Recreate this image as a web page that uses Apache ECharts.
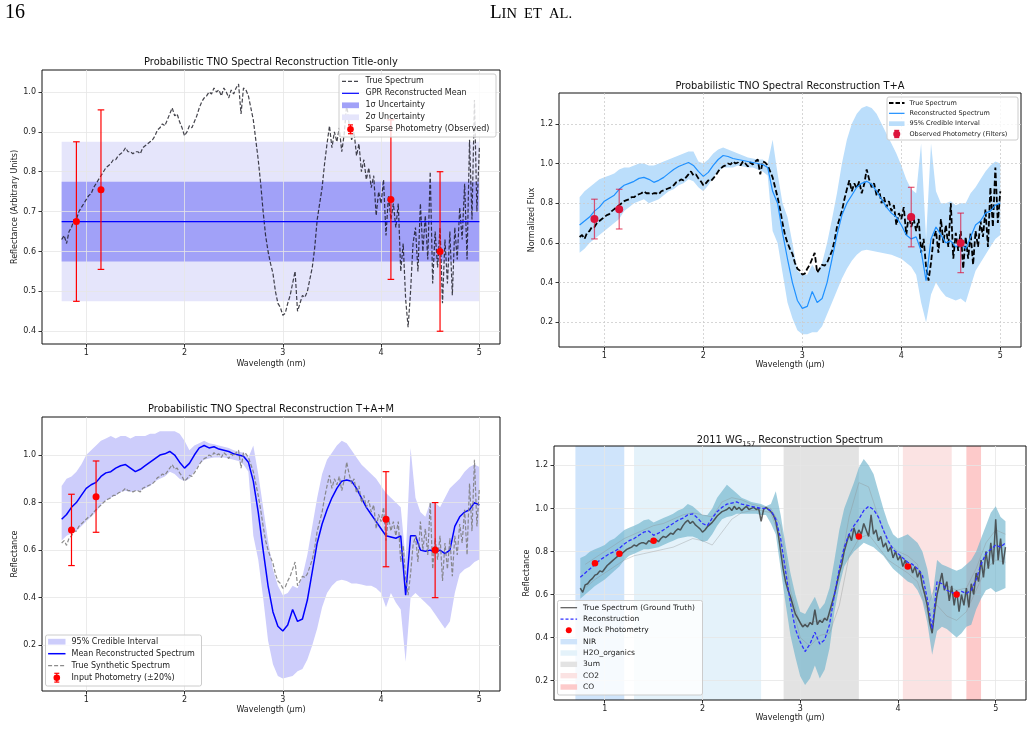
<!DOCTYPE html>
<html>
<head>
<meta charset="utf-8">
<title>TNO spectral reconstructions</title>
<script src="https://cdn.jsdelivr.net/npm/echarts@6.0.0/dist/echarts.min.js"></script>
<style>
  html, body { margin: 0; padding: 0; background: #fff; }
  #main { width: 1034px; height: 729px; }
</style>
</head>
<body>
<div id="main"></div>
<script>
// ---------- data ----------
// fine wavelength grid shared by the true spectrum of panels 1-3 (um)
const wlFine = [
  0.75, 0.775, 0.8, 0.825, 0.85, 0.875, 0.9, 0.925, 0.95, 0.975,
  1, 1.025, 1.05, 1.075, 1.1, 1.125, 1.15, 1.175, 1.2, 1.225,
  1.25, 1.275, 1.3, 1.325, 1.35, 1.375, 1.4, 1.425, 1.45, 1.475,
  1.5, 1.525, 1.55, 1.575, 1.6, 1.625, 1.65, 1.675, 1.7, 1.725,
  1.75, 1.775, 1.8, 1.825, 1.85, 1.875, 1.9, 1.925, 1.95, 1.975,
  2, 2.025, 2.05, 2.075, 2.1, 2.125, 2.15, 2.175, 2.2, 2.225,
  2.25, 2.275, 2.3, 2.325, 2.35, 2.375, 2.4, 2.425, 2.45, 2.475,
  2.5, 2.525, 2.55, 2.575, 2.6, 2.625, 2.65, 2.675, 2.7, 2.725,
  2.75, 2.775, 2.8, 2.825, 2.85, 2.875, 2.9, 2.925, 2.95, 2.975,
  3, 3.025, 3.05, 3.075, 3.1, 3.125, 3.15, 3.175, 3.2, 3.225,
  3.25, 3.275, 3.3, 3.325, 3.35, 3.375, 3.4, 3.425, 3.45, 3.475,
  3.5, 3.525, 3.55, 3.575, 3.6, 3.625, 3.65, 3.675, 3.7, 3.725,
  3.75, 3.775, 3.8, 3.825, 3.85, 3.875, 3.9, 3.925, 3.95, 3.975,
  4, 4.025, 4.05, 4.075, 4.1, 4.125, 4.15, 4.175, 4.2, 4.225,
  4.25, 4.275, 4.3, 4.325, 4.35, 4.375, 4.4, 4.425, 4.45, 4.475,
  4.5, 4.525, 4.55, 4.575, 4.6, 4.625, 4.65, 4.675, 4.7, 4.725,
  4.75, 4.775, 4.8, 4.825, 4.85, 4.875, 4.9, 4.925, 4.95, 4.975,
  5
];
const trueFlux = [
  0.63, 0.64, 0.62, 0.65, 0.66, 0.68, 0.68, 0.70, 0.71, 0.72,
  0.73, 0.74, 0.745, 0.76, 0.77, 0.78, 0.79, 0.80, 0.81, 0.815,
  0.82, 0.83, 0.83, 0.84, 0.845, 0.85, 0.86, 0.85, 0.85, 0.845,
  0.85, 0.85, 0.845, 0.86, 0.865, 0.87, 0.875, 0.88, 0.89, 0.905,
  0.91, 0.92, 0.915, 0.93, 0.945, 0.96, 0.94, 0.945, 0.925, 0.91,
  0.89, 0.90, 0.915, 0.91, 0.925, 0.94, 0.96, 0.975, 0.985, 0.99,
  1.00, 0.995, 1.01, 1.00, 1.005, 0.99, 1.01, 1.00, 0.985, 1.005,
  0.995, 1.01, 1.02, 0.945, 1.01, 1.005, 0.99, 0.96, 0.93, 0.88,
  0.83, 0.77, 0.70, 0.64, 0.60, 0.57, 0.545, 0.50, 0.47, 0.46,
  0.44, 0.445, 0.47, 0.49, 0.52, 0.55, 0.45, 0.47, 0.49, 0.485,
  0.50, 0.53, 0.56, 0.61, 0.68, 0.72, 0.76, 0.82, 0.87, 0.915,
  0.86, 0.90, 0.875, 0.91, 0.85, 0.895, 0.97, 0.92, 0.88, 0.90,
  0.84, 0.87, 0.80, 0.83, 0.78, 0.81, 0.76, 0.79, 0.69, 0.75,
  0.72, 0.78, 0.64, 0.74, 0.68, 0.72, 0.66, 0.72, 0.55, 0.62,
  0.48, 0.41, 0.50, 0.62, 0.66, 0.55, 0.72, 0.60, 0.69, 0.58,
  0.80, 0.52, 0.65, 0.56, 0.66, 0.47, 0.63, 0.52, 0.65, 0.49,
  0.66, 0.58, 0.71, 0.63, 0.77, 0.58, 0.88, 0.68, 0.98, 0.70,
  0.86
];

// coarse grid for the reconstructions of panels 2 and 3
const wlCoarse = [
  0.75, 0.8, 0.85, 0.9, 0.95, 1, 1.05, 1.1, 1.15, 1.2,
  1.25, 1.3, 1.35, 1.4, 1.45, 1.5, 1.55, 1.6, 1.65, 1.7,
  1.75, 1.8, 1.85, 1.9, 1.95, 2, 2.05, 2.1, 2.15, 2.2,
  2.25, 2.3, 2.35, 2.4, 2.45, 2.5, 2.55, 2.6, 2.65, 2.7,
  2.75, 2.8, 2.85, 2.9, 2.95, 3, 3.05, 3.1, 3.15, 3.2,
  3.25, 3.3, 3.35, 3.4, 3.45, 3.5, 3.55, 3.6, 3.65, 3.7,
  3.75, 3.8, 3.85, 3.9, 3.95, 4, 4.05, 4.1, 4.15, 4.2,
  4.25, 4.3, 4.35, 4.4, 4.45, 4.5, 4.55, 4.6, 4.65, 4.7,
  4.75, 4.8, 4.85, 4.9, 4.95, 5
];

// panel 1: title-only GPR (flat mean)
const gprX = [0.75, 5.0];
const gprMean = [0.675, 0.675];
const sig1Lo = [0.575, 0.575];
const sig1Hi = [0.775, 0.775];
const sig2Lo = [0.475, 0.475];
const sig2Hi = [0.875, 0.875];
const p1PhotX = [0.9, 1.15, 4.1, 4.6];
const p1PhotY = [0.675, 0.755, 0.73, 0.60];
const p1PhotErr = [0.2, 0.2, 0.2, 0.2];

// panel 2: T+A
const p2Mean = [
  0.69, 0.71, 0.73, 0.76, 0.78, 0.81, 0.825, 0.84, 0.87, 0.89,
  0.90, 0.91, 0.925, 0.93, 0.92, 0.905, 0.915, 0.93, 0.95, 0.97,
  0.985, 0.995, 1.005, 0.99, 0.96, 0.935, 0.955, 0.99, 1.02, 1.04,
  1.035, 1.025, 1.02, 1.015, 1.01, 1.005, 1.0, 0.995, 0.98, 0.86,
  0.80, 0.65, 0.52, 0.40, 0.31, 0.27, 0.28, 0.355, 0.30, 0.32,
  0.40, 0.52, 0.64, 0.74, 0.80, 0.84, 0.88, 0.90, 0.91, 0.895,
  0.86, 0.82, 0.78, 0.75, 0.73, 0.69, 0.64, 0.62, 0.63, 0.56,
  0.41, 0.62, 0.68, 0.64, 0.60, 0.61, 0.58, 0.60, 0.57, 0.63,
  0.69, 0.71, 0.75, 0.76, 0.79, 0.80
];
const p2Lo = [
  0.55, 0.57, 0.60, 0.62, 0.64, 0.66, 0.68, 0.70, 0.72, 0.76,
  0.78, 0.80, 0.81, 0.82, 0.80, 0.81, 0.82, 0.84, 0.86, 0.87,
  0.89, 0.90, 0.92, 0.91, 0.88, 0.86, 0.89, 0.93, 0.96, 0.98,
  0.98, 0.98, 0.99, 0.985, 0.98, 0.98, 0.97, 0.96, 0.94, 0.66,
  0.60, 0.45, 0.30, 0.22, 0.16, 0.14, 0.14, 0.15, 0.15, 0.18,
  0.24, 0.30, 0.36, 0.42, 0.47, 0.51, 0.54, 0.56, 0.565, 0.56,
  0.555, 0.55, 0.545, 0.54, 0.53, 0.52, 0.50, 0.48, 0.44, 0.30,
  0.20, 0.34, 0.40, 0.36, 0.33, 0.32, 0.31, 0.32, 0.30, 0.38,
  0.46, 0.50, 0.54, 0.58, 0.62, 0.64
];
const p2Hi = [
  0.83, 0.86, 0.88, 0.90, 0.92, 0.93, 0.94, 0.95, 0.97, 0.98,
  0.98, 0.99, 1.00, 1.00, 0.99, 0.99, 1.00, 1.01, 1.02, 1.03,
  1.04, 1.05, 1.06, 1.06, 1.01, 1.00, 1.02, 1.05, 1.07, 1.08,
  1.07, 1.06, 1.05, 1.04, 1.03, 1.025, 1.02, 1.02, 1.00, 1.12,
  0.95, 0.80, 0.73, 0.60, 0.46, 0.44, 0.44, 0.49, 0.45, 0.50,
  0.60, 0.72, 0.85, 1.00, 1.12, 1.20, 1.25, 1.28, 1.29, 1.28,
  1.25, 1.20, 1.15, 1.10, 1.05, 0.99, 0.92, 0.87, 0.85, 1.10,
  0.62, 1.10, 0.86, 0.80, 0.80, 0.81, 0.79, 0.80, 0.80, 0.85,
  0.88, 0.92, 0.96, 0.99, 1.01, 1.00
];
const p2PhotX = [0.9, 1.15, 4.1, 4.6];
const p2PhotY = [0.72, 0.77, 0.73, 0.60];
const p2PhotErr = [0.1, 0.1, 0.15, 0.15];

// panel 3: T+A+M
const p3Mean = [
  0.73, 0.75, 0.78, 0.80, 0.83, 0.86, 0.875, 0.885, 0.91, 0.925,
  0.93, 0.945, 0.955, 0.96, 0.945, 0.93, 0.94, 0.955, 0.97, 0.985,
  1.00, 1.005, 1.015, 1.0, 0.97, 0.945, 0.965, 1.0, 1.03, 1.04,
  1.03, 1.035, 1.025, 1.02, 1.015, 1.005, 1.0, 0.995, 0.97, 0.89,
  0.76, 0.60, 0.45, 0.34, 0.28, 0.26, 0.285, 0.35, 0.30, 0.31,
  0.39, 0.51, 0.63, 0.71, 0.77, 0.82, 0.86, 0.89, 0.895, 0.89,
  0.86, 0.82, 0.78, 0.75, 0.72, 0.69, 0.66, 0.655, 0.65, 0.66,
  0.41, 0.66, 0.66, 0.60, 0.595, 0.60, 0.59, 0.60, 0.585, 0.60,
  0.70, 0.74, 0.76, 0.77, 0.80, 0.79
];
const p3Lo = [
  0.64, 0.66, 0.67, 0.68, 0.70, 0.72, 0.74, 0.76, 0.79, 0.81,
  0.82, 0.83, 0.845, 0.85, 0.845, 0.85, 0.85, 0.86, 0.87, 0.89,
  0.90, 0.91, 0.93, 0.92, 0.90, 0.89, 0.90, 0.93, 0.96, 0.98,
  0.985, 0.99, 0.99, 0.99, 0.985, 0.98, 0.975, 0.96, 0.93, 0.66,
  0.56, 0.40, 0.22, 0.12, 0.07, 0.06, 0.065, 0.07, 0.09, 0.10,
  0.14, 0.20, 0.27, 0.36, 0.42, 0.45, 0.47, 0.475, 0.47, 0.46,
  0.46, 0.455, 0.45, 0.45, 0.44, 0.42, 0.36, 0.42, 0.38, 0.35,
  0.13, 0.40, 0.42, 0.40, 0.38, 0.36, 0.33, 0.30, 0.27, 0.30,
  0.42, 0.50, 0.52, 0.53, 0.55, 0.56
];
const p3Hi = [
  0.87, 0.90, 0.91, 0.93, 0.96, 1.00, 1.02, 1.04, 1.06, 1.07,
  1.08, 1.07, 1.08, 1.08, 1.07, 1.08, 1.08, 1.08, 1.09, 1.09,
  1.10, 1.10, 1.10, 1.10, 1.09, 1.06, 1.02, 1.04, 1.05, 1.06,
  1.05, 1.045, 1.04, 1.035, 1.03, 1.02, 1.015, 1.01, 0.99, 1.04,
  0.92, 0.78, 0.64, 0.52, 0.45, 0.41, 0.42, 0.45, 0.44, 0.49,
  0.58, 0.70, 0.82, 0.92, 0.98, 1.01, 1.04, 1.06, 1.05, 1.02,
  0.99, 0.96, 0.94, 0.92, 0.90, 0.87, 0.84, 0.82, 0.80, 0.78,
  0.56, 1.03, 0.82, 0.76, 0.74, 0.80, 0.80, 0.78, 0.82, 0.86,
  0.88, 0.90, 0.93, 0.95, 0.96, 0.95
];
const p3PhotX = [0.85, 1.1, 4.05, 4.55];
const p3PhotY = [0.685, 0.825, 0.73, 0.60];
const p3PhotErr = [0.15, 0.15, 0.2, 0.2];

// panel 4: 2011 WG157
const wl4True = wlFine.concat([5.025, 5.05, 5.075, 5.1]);
const p4True = [
  0.63, 0.61, 0.645, 0.65, 0.665, 0.675, 0.69, 0.695, 0.71, 0.705,
  0.72, 0.735, 0.745, 0.755, 0.765, 0.775, 0.785, 0.79, 0.80, 0.81,
  0.815, 0.82, 0.83, 0.825, 0.835, 0.84, 0.84, 0.835, 0.85, 0.845,
  0.85, 0.855, 0.845, 0.86, 0.87, 0.865, 0.875, 0.885, 0.88, 0.895,
  0.905, 0.90, 0.92, 0.935, 0.945, 0.93, 0.94, 0.925, 0.915, 0.905,
  0.89, 0.90, 0.915, 0.925, 0.935, 0.95, 0.965, 0.975, 0.985, 0.99,
  0.995, 1.005, 0.99, 1.01, 0.995, 1.005, 0.99, 1.0, 1.01, 0.995,
  1.0, 1.005, 0.995, 1.0, 0.94, 0.995, 1.005, 0.995, 0.985, 0.97,
  0.94, 0.88, 0.80, 0.72, 0.66, 0.62, 0.59, 0.55, 0.51, 0.49,
  0.47, 0.45, 0.46, 0.45, 0.47, 0.46, 0.53, 0.46, 0.48, 0.47,
  0.49, 0.48, 0.52, 0.56, 0.60, 0.65, 0.70, 0.74, 0.80, 0.84,
  0.88, 0.85, 0.91, 0.87, 0.90, 0.88, 0.93, 0.90, 0.87, 0.97,
  0.88, 0.90, 0.85, 0.87, 0.82, 0.84, 0.80, 0.82, 0.77, 0.80,
  0.76, 0.78, 0.73, 0.76, 0.72, 0.74, 0.70, 0.73, 0.68, 0.71,
  0.64, 0.60, 0.55, 0.47, 0.42, 0.52, 0.60, 0.65, 0.70, 0.62,
  0.66, 0.57, 0.64, 0.55, 0.62, 0.52, 0.60, 0.55, 0.63, 0.54,
  0.65, 0.60, 0.70, 0.66, 0.76, 0.68, 0.80, 0.72, 0.84, 0.74,
  0.95, 0.76, 0.86, 0.74, 0.82
];
const wl4 = wlCoarse.concat([5.05, 5.1]);
const p4Mean = [
  0.68, 0.70, 0.72, 0.74, 0.76, 0.775, 0.79, 0.80, 0.815, 0.835,
  0.85, 0.86, 0.875, 0.89, 0.895, 0.875, 0.885, 0.90, 0.915, 0.93,
  0.945, 0.955, 0.97, 0.975, 0.955, 0.93, 0.92, 0.955, 0.985, 1.005,
  1.02, 1.025, 1.03, 1.02, 1.015, 1.01, 1.005, 1.0, 1.0, 0.99,
  0.95, 0.86, 0.71, 0.56, 0.44, 0.38, 0.335, 0.37, 0.425, 0.37,
  0.39, 0.46, 0.60, 0.72, 0.82, 0.88, 0.92, 0.95, 0.99, 1.01,
  0.995, 0.96, 0.90, 0.85, 0.81, 0.79, 0.77, 0.75, 0.74, 0.72,
  0.69, 0.58, 0.44, 0.66, 0.65, 0.62, 0.61, 0.60, 0.615, 0.605,
  0.62, 0.67, 0.74, 0.79, 0.81, 0.83, 0.82, 0.84
];
const p4Lo = [
  0.58, 0.60, 0.62, 0.64, 0.655, 0.67, 0.69, 0.71, 0.73, 0.76,
  0.78, 0.79, 0.80, 0.81, 0.81, 0.815, 0.82, 0.83, 0.84, 0.85,
  0.86, 0.865, 0.87, 0.87, 0.86, 0.845, 0.85, 0.88, 0.92, 0.95,
  0.96, 0.965, 0.975, 0.975, 0.975, 0.975, 0.975, 0.97, 0.97, 0.93,
  0.88, 0.72, 0.56, 0.41, 0.31, 0.22, 0.18, 0.21, 0.27, 0.21,
  0.25, 0.35, 0.52, 0.64, 0.73, 0.77, 0.80, 0.82, 0.84, 0.83,
  0.82, 0.80, 0.78, 0.75, 0.72, 0.70, 0.68, 0.66, 0.65, 0.62,
  0.57, 0.47, 0.32, 0.43, 0.45, 0.44, 0.42, 0.40, 0.42, 0.45,
  0.46, 0.53, 0.58, 0.62, 0.63, 0.61, 0.62, 0.63
];
const p4Hi = [
  0.77, 0.78, 0.80, 0.81, 0.82, 0.83, 0.85, 0.86, 0.88, 0.90,
  0.91, 0.92, 0.93, 0.945, 0.95, 0.935, 0.945, 0.955, 0.965, 0.975,
  0.99, 1.0, 1.02, 1.01, 0.99, 0.97, 0.97, 1.00, 1.05, 1.08,
  1.11, 1.09, 1.07, 1.05, 1.04, 1.03, 1.025, 1.02, 1.01, 1.02,
  1.08, 0.97, 0.83, 0.70, 0.60, 0.52, 0.51, 0.55, 0.59, 0.53,
  0.56, 0.63, 0.76, 0.90, 1.00, 1.06, 1.12, 1.19, 1.23, 1.20,
  1.16, 1.08, 1.00, 0.93, 0.88, 0.86, 0.87, 0.88, 0.86, 0.84,
  0.80, 0.72, 0.58, 0.76, 0.74, 0.73, 0.72, 0.71, 0.72, 0.74,
  0.76, 0.80, 0.86, 0.92, 0.98, 1.01, 0.96, 0.94
];
// two faint posterior draws seen inside the band
const wl4Draw = [
  0.8, 0.9, 1, 1.1, 1.2, 1.3, 1.4, 1.5, 1.6, 1.7,
  1.8, 1.9, 2, 2.1, 2.2, 2.3, 2.4, 2.5, 2.6, 2.7,
  2.8, 2.9, 3, 3.1, 3.2, 3.3, 3.4, 3.5, 3.6, 3.7,
  3.8, 3.9, 4, 4.1, 4.2, 4.3, 4.4, 4.5, 4.6, 4.7,
  4.8, 4.9, 5, 5.1
];
const p4DrawA = [
  0.63, 0.67, 0.70, 0.73, 0.76, 0.78, 0.79, 0.80, 0.81, 0.82,
  0.84, 0.86, 0.85, 0.83, 0.89, 0.95, 0.98, 0.99, 0.99, 0.98,
  0.85, 0.58, 0.40, 0.36, 0.41, 0.42, 0.55, 0.78, 0.86, 0.88,
  0.82, 0.76, 0.73, 0.70, 0.66, 0.52, 0.55, 0.50, 0.48, 0.52,
  0.62, 0.72, 0.76, 0.75
];
const p4DrawB = [
  0.74, 0.77, 0.80, 0.83, 0.86, 0.88, 0.90, 0.92, 0.93, 0.95,
  0.97, 0.98, 0.97, 0.96, 1.03, 1.05, 1.04, 1.02, 1.01, 1.00,
  0.92, 0.62, 0.46, 0.47, 0.48, 0.50, 0.70, 0.96, 1.12, 1.10,
  0.96, 0.84, 0.80, 0.78, 0.74, 0.54, 0.66, 0.64, 0.62, 0.63,
  0.72, 0.84, 0.90, 0.88
];
const p4PhotX = [0.9, 1.15, 1.5, 3.6, 4.1, 4.6];
const p4PhotY = [0.745, 0.79, 0.85, 0.87, 0.73, 0.60];
const spanNames = ['NIR', 'H2O_organics', '3um', 'CO2', 'CO'];
const spanStart = [0.7, 1.3, 2.83, 4.05, 4.7];
const spanEnd = [1.2, 2.6, 3.6, 4.55, 4.85];

// tick labels
const xTicks = [1, 2, 3, 4, 5];
const y1Ticks = [0.4, 0.5, 0.6, 0.7, 0.8, 0.9, 1.0];
const y2Ticks = [0.2, 0.4, 0.6, 0.8, 1.0, 1.2];
const y3Ticks = [0.2, 0.4, 0.6, 0.8, 1.0];
const y4Ticks = [0.2, 0.4, 0.6, 0.8, 1.0, 1.2];

// ---------- styles ----------
const FONT = 'DejaVu Sans';
const TXT = '#222';
const spanColors = ['#cfe4fb', '#e4f2fa', '#e3e3e3', '#fbe3e3', '#fdcaca'];

const chart = echarts.init(document.getElementById('main'), null, { renderer: 'canvas' });

function pairs(xs, ys) {
  return xs.map((x, i) => [x, ys[i]]);
}

function lineSeries(gi, xs, ys, color, width, dash, z) {
  return {
    type: 'line', xAxisIndex: gi, yAxisIndex: gi, z: z || 3, silent: true,
    data: pairs(xs, ys), showSymbol: false, symbol: 'none',
    lineStyle: { color: color, width: width, type: dash || 'solid' }
  };
}

function bandSeries(gi, xs, lo, hi, color, z) {
  return {
    type: 'custom', xAxisIndex: gi, yAxisIndex: gi, z: z, silent: true,
    data: [[xs[0], lo[0]]],
    renderItem: function (params, api) {
      const pts = [];
      for (let i = 0; i < xs.length; i++) pts.push(api.coord([xs[i], hi[i]]));
      for (let i = xs.length - 1; i >= 0; i--) pts.push(api.coord([xs[i], lo[i]]));
      return { type: 'polygon', shape: { points: pts }, style: { fill: color } };
    }
  };
}

function errorSeries(gi, xs, ys, errs, color, capHalf, lw) {
  return {
    type: 'custom', xAxisIndex: gi, yAxisIndex: gi, z: 4, silent: true,
    data: xs.map((x, i) => [x, ys[i] - errs[i], ys[i] + errs[i]]),
    encode: { x: 0, y: [1, 2] },
    renderItem: function (params, api) {
      const x = api.value(0);
      const lo = api.coord([x, api.value(1)]);
      const hi = api.coord([x, api.value(2)]);
      const st = { stroke: color, lineWidth: lw };
      return {
        type: 'group', children: [
          { type: 'line', shape: { x1: lo[0], y1: lo[1], x2: hi[0], y2: hi[1] }, style: st },
          { type: 'line', shape: { x1: lo[0] - capHalf, y1: lo[1], x2: lo[0] + capHalf, y2: lo[1] }, style: st },
          { type: 'line', shape: { x1: hi[0] - capHalf, y1: hi[1], x2: hi[0] + capHalf, y2: hi[1] }, style: st }
        ]
      };
    }
  };
}

function dotSeries(gi, xs, ys, color, size) {
  return {
    type: 'scatter', xAxisIndex: gi, yAxisIndex: gi, z: 5, silent: true,
    data: pairs(xs, ys), symbolSize: size, itemStyle: { color: color, opacity: 1 }
  };
}

function xAxisFor(gi, min, max, name, gap, split) {
  return {
    gridIndex: gi, type: 'value', min: min, max: max,
    axisLine: { show: false },
    axisTick: { show: true, inside: false, length: 3.5, lineStyle: { color: '#000', width: 0.8 }, customValues: xTicks },
    axisLabel: { customValues: xTicks, fontSize: 8, fontFamily: FONT, color: TXT, margin: 5 },
    splitLine: { show: true, lineStyle: split },
    name: name, nameLocation: 'middle', nameGap: gap,
    nameTextStyle: {
      fontSize: 8, fontFamily: FONT, color: TXT,
      rich: { i: { fontSize: 8, fontFamily: FONT, color: TXT, fontStyle: 'italic' } }
    }
  };
}

function yAxisFor(gi, min, max, ticks, name, gap, split) {
  return {
    gridIndex: gi, type: 'value', min: min, max: max,
    axisLine: { show: false },
    axisTick: { show: true, inside: false, length: 3.5, lineStyle: { color: '#000', width: 0.8 }, customValues: ticks },
    axisLabel: { customValues: ticks, fontSize: 8, fontFamily: FONT, color: TXT, margin: 6, formatter: v => v.toFixed(1) },
    splitLine: { show: true, lineStyle: split },
    name: name, nameLocation: 'middle', nameGap: gap,
    nameTextStyle: { fontSize: 8, fontFamily: FONT, color: TXT }
  };
}

// legend drawn as graphic elements (matplotlib style frame), kept above the series
function legendBox(cfg) {
  const Z = 100;
  const els = [{
    type: 'rect', z: Z, shape: { x: cfg.x, y: cfg.y, width: cfg.w, height: cfg.h, r: 2 },
    style: { fill: 'rgba(255,255,255,0.8)', stroke: '#cccccc', lineWidth: 1 }
  }];
  const x0 = cfg.x + cfg.hx0, x1 = cfg.x + cfg.hx1, xm = (x0 + x1) / 2;
  cfg.items.forEach(function (it, i) {
    const cy = cfg.y + cfg.rowTop + i * cfg.rowStep;
    if (it.kind === 'line') {
      els.push({
        type: 'line', z: Z + 1, shape: { x1: x0, y1: cy, x2: x1, y2: cy },
        style: { stroke: it.color, lineWidth: it.width, lineDash: it.dash || null }
      });
    } else if (it.kind === 'rect') {
      const hh = cfg.fs * 0.72;
      els.push({
        type: 'rect', z: Z + 1, shape: { x: x0, y: cy - hh / 2, width: x1 - x0, height: hh },
        style: { fill: it.color }
      });
    } else if (it.kind === 'err') {
      const st = { stroke: it.color, lineWidth: 1.2 };
      const e = cfg.fs * 0.55;
      els.push({ type: 'line', z: Z + 1, shape: { x1: xm, y1: cy - e, x2: xm, y2: cy + e }, style: st });
      els.push({ type: 'line', z: Z + 1, shape: { x1: xm - 2.5, y1: cy - e, x2: xm + 2.5, y2: cy - e }, style: st });
      els.push({ type: 'line', z: Z + 1, shape: { x1: xm - 2.5, y1: cy + e, x2: xm + 2.5, y2: cy + e }, style: st });
      els.push({ type: 'circle', z: Z + 2, shape: { cx: xm, cy: cy, r: it.r }, style: { fill: it.color } });
    } else if (it.kind === 'dot') {
      els.push({ type: 'circle', z: Z + 1, shape: { cx: xm, cy: cy, r: it.r }, style: { fill: it.color } });
    }
    els.push({
      type: 'text', z: Z + 1, x: cfg.x + cfg.tx, y: cy,
      style: { text: it.text, fontSize: cfg.fs, fontFamily: FONT, fill: TXT, verticalAlign: 'middle', align: 'left' }
    });
  });
  return els;
}

function titleText(cx, cy, text, rich) {
  return {
    type: 'text', x: cx, y: cy, z: 100,
    style: {
      text: text, fontSize: 9.9, fontFamily: FONT, fill: '#111',
      align: 'center', verticalAlign: 'middle', rich: rich || {}
    }
  };
}

const solidGrid = { color: '#e6e6e6', width: 0.8 };
const dotGrid = { color: '#cccccc', width: 0.8, type: [2, 2] };

const option = {
  animation: false,
  backgroundColor: '#ffffff',
  grid: [
    { left: 42, top: 70, width: 458, height: 274 },
    { left: 559, top: 93, width: 462, height: 254 },
    { left: 42, top: 417, width: 458, height: 274 },
    { left: 554, top: 446, width: 472, height: 254 }
  ].map(g => Object.assign(g, {
    show: true, borderColor: '#111', borderWidth: 1, backgroundColor: 'transparent',
    containLabel: false, outerBoundsMode: 'none'
  })),
  xAxis: [
    xAxisFor(0, 0.55, 5.21, 'Wavelength (nm)', 16, solidGrid),
    xAxisFor(1, 0.542, 5.209, 'Wavelength (µm)', 13, dotGrid),
    xAxisFor(2, 0.55, 5.21, 'Wavelength ({i|μ}m)', 15, solidGrid),
    xAxisFor(3, 0.481, 5.31, 'Wavelength ({i|μ}m)', 13, solidGrid)
  ],
  yAxis: [
    yAxisFor(0, 0.368, 1.055, y1Ticks, 'Reflectance (Arbitrary Units)', 22, solidGrid),
    yAxisFor(1, 0.0755, 1.355, y2Ticks, 'Normalized Flux', 17.5, dotGrid),
    yAxisFor(2, 0.0073, 1.160, y3Ticks, 'Reflectance', 22, solidGrid),
    yAxisFor(3, 0.110, 1.29, y4Ticks, 'Reflectance', 19.5, solidGrid)
  ],
  series: [
    // panel 1
    bandSeries(0, gprX, sig2Lo, sig2Hi, '#e5e5fb', -1),
    bandSeries(0, gprX, sig1Lo, sig1Hi, '#a1a1f8', -1),
    lineSeries(0, wlFine, trueFlux, 'rgba(20,20,30,0.8)', 1.2, [4, 2]),
    lineSeries(0, gprX, gprMean, '#0000ff', 1.2),
    errorSeries(0, p1PhotX, p1PhotY, p1PhotErr, '#ff0000', 3.3, 1.2),
    dotSeries(0, p1PhotX, p1PhotY, '#ff0000', 7),

    // panel 2
    bandSeries(1, wlCoarse, p2Lo, p2Hi, '#bbdefb', -1),
    lineSeries(1, wlFine, trueFlux, '#000000', 1.8, [5.5, 2.5]),
    lineSeries(1, wlCoarse, p2Mean, '#1e90ff', 1.2),
    errorSeries(1, p2PhotX, p2PhotY, p2PhotErr, 'rgba(220,20,60,0.7)', 3.3, 1.2),
    dotSeries(1, p2PhotX, p2PhotY, '#dc143c', 8),

    // panel 3
    bandSeries(2, wlCoarse, p3Lo, p3Hi, '#cdcdfb', -1),
    lineSeries(2, wlCoarse, p3Mean, '#0000ff', 1.5),
    lineSeries(2, wlFine, trueFlux, 'rgba(128,128,128,0.9)', 1.2, [4, 2]),
    errorSeries(2, p3PhotX, p3PhotY, p3PhotErr, '#ff0000', 3.3, 1.2),
    dotSeries(2, p3PhotX, p3PhotY, '#ff0000', 7),

    // panel 4
    {
      type: 'custom', xAxisIndex: 3, yAxisIndex: 3, z: -2, silent: true,
      data: spanStart.map((s, i) => [s, spanEnd[i], 0.5, i]),
      encode: { x: [0, 1], y: 2 },
      renderItem: function (params, api) {
        const a = api.coord([api.value(0), api.value(2)]);
        const b = api.coord([api.value(1), api.value(2)]);
        const cs = params.coordSys;
        return {
          type: 'rect',
          shape: { x: a[0], y: cs.y, width: b[0] - a[0], height: cs.height },
          style: { fill: spanColors[api.value(3)] }
        };
      }
    },
    bandSeries(3, wl4, p4Lo, p4Hi, 'rgba(110,180,205,0.65)', 1),
    lineSeries(3, wl4Draw, p4DrawA, 'rgba(140,140,140,0.35)', 1),
    lineSeries(3, wl4Draw, p4DrawB, 'rgba(140,140,140,0.35)', 1),
    lineSeries(3, wl4True, p4True, 'rgba(55,55,55,0.8)', 1.5),
    lineSeries(3, wl4, p4Mean, '#2f2fff', 1.3, [3.5, 2]),
    dotSeries(3, p4PhotX, p4PhotY, '#ff0000', 6.5)
  ],
  graphic: [
    // page header
    {
      type: 'text', x: 5, y: 13,
      style: { text: '16', fontSize: 20, fontFamily: 'Liberation Serif', fill: '#000', verticalAlign: 'middle' }
    },
    {
      type: 'text', x: 531, y: 13,
      style: {
        text: '{b|L}{s|IN  ET  AL.}', align: 'center', verticalAlign: 'middle',
        rich: {
          b: { fontSize: 19, fontFamily: 'Liberation Serif', fill: '#000', verticalAlign: 'bottom', lineHeight: 20 },
          s: { fontSize: 14.5, fontFamily: 'Liberation Serif', fill: '#000', verticalAlign: 'bottom', lineHeight: 20, padding: [0, 0, 1, 0] }
        }
      }
    },
    titleText(271, 62, 'Probabilistic TNO Spectral Reconstruction Title-only'),
    titleText(790, 86, 'Probabilistic TNO Spectral Reconstruction T+A'),
    titleText(271, 409, 'Probabilistic TNO Spectral Reconstruction T+A+M'),
    titleText(790, 439, '{n|2011 WG}{s|157}{n| Reconstruction Spectrum}', {
      n: { fontSize: 9.9, fontFamily: FONT, fill: '#111', verticalAlign: 'bottom', lineHeight: 13 },
      s: { fontSize: 6.7, fontFamily: FONT, fill: '#111', verticalAlign: 'bottom', lineHeight: 13, padding: [0, 0, -2, 0] }
    })
  ].concat(
    legendBox({
      x: 339, y: 74, w: 157, h: 63, rowTop: 7.3, rowStep: 12, hx0: 3, hx1: 20, tx: 26.5, fs: 8,
      items: [
        { kind: 'line', color: 'rgba(20,20,30,0.8)', width: 1.2, dash: [4, 2], text: 'True Spectrum' },
        { kind: 'line', color: '#0000ff', width: 1.2, text: 'GPR Reconstructed Mean' },
        { kind: 'rect', color: '#a1a1f8', text: '1σ Uncertainty' },
        { kind: 'rect', color: '#e5e5fb', text: '2σ Uncertainty' },
        { kind: 'err', color: '#ff0000', r: 3.3, text: 'Sparse Photometry (Observed)' }
      ]
    }),
    legendBox({
      x: 887, y: 97, w: 131, h: 43, rowTop: 6, rowStep: 10.33, hx0: 2, hx1: 17.5, tx: 22.5, fs: 6.5,
      items: [
        { kind: 'line', color: '#000000', width: 1.8, dash: [4.5, 2], text: 'True Spectrum' },
        { kind: 'line', color: '#1e90ff', width: 1.2, text: 'Reconstructed Spectrum' },
        { kind: 'rect', color: '#bbdefb', text: '95% Credible Interval' },
        { kind: 'err', color: '#dc143c', r: 3.5, text: 'Observed Photometry (Filters)' }
      ]
    }),
    legendBox({
      x: 45.5, y: 635, w: 156, h: 51, rowTop: 6.7, rowStep: 12, hx0: 2.6, hx1: 20, tx: 26, fs: 8,
      items: [
        { kind: 'rect', color: '#cdcdfb', text: '95% Credible Interval' },
        { kind: 'line', color: '#0000ff', width: 1.5, text: 'Mean Reconstructed Spectrum' },
        { kind: 'line', color: 'rgba(128,128,128,0.9)', width: 1.2, dash: [4, 2], text: 'True Synthetic Spectrum' },
        { kind: 'err', color: '#ff0000', r: 3.3, text: 'Input Photometry (±20%)' }
      ]
    }),
    legendBox({
      x: 557.5, y: 600.5, w: 145, h: 94.5, rowTop: 7.2, rowStep: 11.33, hx0: 3, hx1: 19.6, tx: 25.6, fs: 7.5,
      items: [
        { kind: 'line', color: 'rgba(55,55,55,0.85)', width: 1.2, text: 'True Spectrum (Ground Truth)' },
        { kind: 'line', color: '#2f2fff', width: 1.3, dash: [3, 2], text: 'Reconstruction' },
        { kind: 'dot', color: '#ff0000', r: 3, text: 'Mock Photometry' }
      ].concat(spanNames.map((n, i) => ({ kind: 'rect', color: spanColors[i], text: n })))
    })
  )
};

chart.setOption(option);
</script>
</body>
</html>
